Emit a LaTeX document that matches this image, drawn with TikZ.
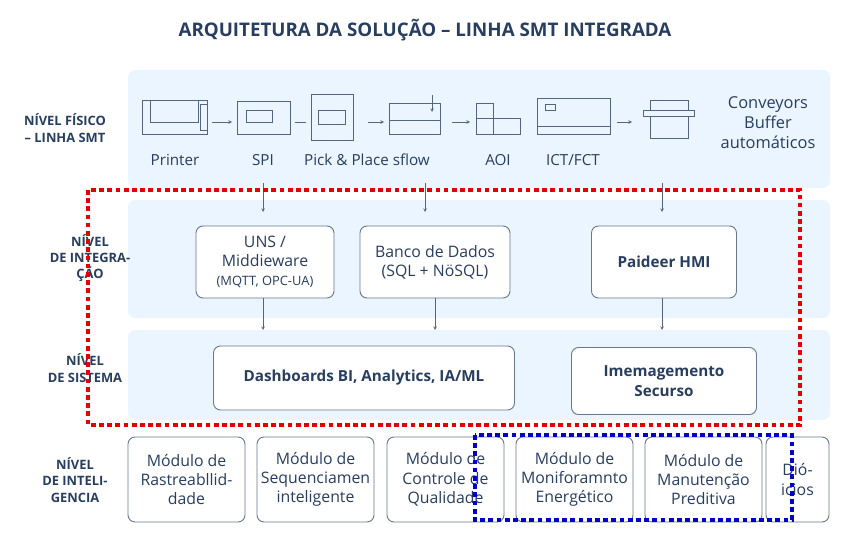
\documentclass[tikz,border=0pt]{standalone}
\usepackage{fontspec}
\setmainfont{Open Sans}
\usepackage{tikz}
\definecolor{inkc}{RGB}{40,62,96}
\newcommand{\bandcol}{blue!50!cyan!8}
\newcommand{\inkcol}{inkc}
\tikzset{
  box/.style={draw=\inkcol!70, thick, rounded corners=6pt, fill=white, align=center, text=\inkcol, font=\fontsize{13.5}{16.5}\selectfont},
  lvl/.style={align=center, text=\inkcol, font=\bfseries\fontsize{11}{14}\selectfont},
  ico/.style={draw=\inkcol!80, thick},
  lab/.style={text=\inkcol, font=\fontsize{13}{16}\selectfont},
  arr/.style={->, >=stealth, draw=\inkcol!80}
}
\begin{document}
\begin{tikzpicture}[x=0.03cm, y=-0.03cm]
    \useasboundingbox (0, 0) rectangle (846, 538);

    \node[text=\inkcol, font=\bfseries\fontsize{16}{18}\selectfont] (title) at (425, 30) {ARQUITETURA DA SOLUÇÃO – LINHA SMT INTEGRADA};

    % bandes
    \fill[\bandcol, rounded corners=6pt] (128, 70) rectangle (830, 188);
    \fill[\bandcol, rounded corners=6pt] (128, 200) rectangle (830, 318);
    \fill[\bandcol, rounded corners=6pt] (128, 330) rectangle (830, 420);

    \node[lvl] (l1) at (65, 128) {NÍVEL FÍSICO\\– LINHA SMT};
    \node[lvl] (l2) at (90, 258) {NÍVEL\\DE INTEGRA-\\ÇÃO};
    \node[lvl] (l3) at (85, 368) {NÍVEL\\DE SISTEMA};
    \node[lvl] (l4) at (75, 480) {NÍVEL\\DE INTELI-\\GENCIA};

    % machines
    \draw[ico] (142, 100) rectangle (207, 134);
    \draw[ico] (150, 100) rectangle (198, 122);
    \draw[ico] (200, 104) rectangle (207, 130);
    \draw[ico] (237, 101) rectangle (290, 134);
    \draw[ico] (246, 110) rectangle (272, 122);
    \draw[ico] (311, 94) rectangle (353, 140);
    \draw[ico] (318, 110) rectangle (345, 124);
    \draw[ico] (389, 103) rectangle (440, 134);
    \draw[ico] (389, 120) -- (440, 120);
    \draw[arr] (432, 95) -- (432, 112);
    \draw[ico] (476, 103) rectangle (493, 134);
    \draw[ico] (476, 118) rectangle (520, 134);
    \draw[ico] (537, 98) rectangle (610, 134);
    \draw[ico] (537, 126) -- (610, 126);
    \draw[ico] (545, 104) rectangle (555, 110);
    \draw[ico] (643, 110) rectangle (694, 116);
    \draw[ico] (650, 100) rectangle (688, 110);
    \draw[ico] (650, 116) rectangle (688, 138);

    \draw[arr] (212, 122) -- (232, 122);
    \draw[draw=\inkcol!80] (295, 122) -- (306, 122);
    \draw[arr] (368, 122) -- (384, 122);
    \draw[arr] (452, 122) -- (470, 122);
    \draw[arr] (617, 122) -- (632, 122);

    \node[lab] (p1) at (175, 160) {Printer};
    \node[lab] (p2) at (263, 160) {SPI};
    \node[lab] (p3) at (367, 160) {Pick \& Place sflow};
    \node[lab] (p4) at (498, 160) {AOI};
    \node[lab] (p5) at (573, 160) {ICT/FCT};
    \node[lab, align=center, font=\fontsize{14}{17}\selectfont] (p6) at (768, 123) {Conveyors\\Buffer\\automáticos};

    % integration
    \node[box, minimum width=4.14cm, minimum height=72*0.03cm] (uns) at (265, 262) {UNS /\\Middieware\\{\fontsize{11}{13}\selectfont (MQTT, OPC-UA)}};
    \node[box, minimum width=4.5cm, minimum height=72*0.03cm] (db) at (435, 262) {Banco de Dados\\(SQL + NöSQL)};
    \node[box, minimum width=4.35cm, minimum height=72*0.03cm, font=\bfseries\fontsize{13}{15}\selectfont] (hmi) at (664, 262) {Paideer HMI};

    % systeme
    \node[box, minimum width=9.03cm, minimum height=64*0.03cm, font=\bfseries\fontsize{13}{15}\selectfont] (bi) at (364, 378) {Dashboards BI, Analytics, IA/ML};
    \node[box, minimum width=5.55cm, minimum height=67*0.03cm, font=\bfseries\fontsize{13}{17}\selectfont] (sec) at (664, 381) {Imemagemento\\Securso};

    \draw[arr] (263, 183) -- (263, 212);
    \draw[arr] (425, 183) -- (425, 212);
    \draw[arr] (662, 183) -- (662, 212);
    \draw[arr] (uns.south) ++(-2, 0) -- (263, 330);
    \draw[arr] (db.south) -- (435, 330);
    \draw[arr] (hmi.south) ++(-2, 0) -- (662, 330);

    % intelligence
    \node[box, minimum width=3.51cm, minimum height=85*0.03cm] (i1) at (186.5, 479.5) {Módulo de\\Rastreabllid-\\dade};
    \node[box, minimum width=3.51cm, minimum height=85*0.03cm] (i2) at (315.5, 479.5) {Módulo de\\Sequenciamen\\inteligente};
    \node[box, minimum width=3.51cm, minimum height=85*0.03cm] (i3) at (445.5, 479.5) {Módulo de\\Controle de\\Qualidade};
    \node[box, minimum width=3.51cm, minimum height=85*0.03cm] (i4) at (574.5, 479.5) {Módulo de\\Moniforamnto\\Energético};
    \node[box, minimum width=3.51cm, minimum height=85*0.03cm] (i5) at (703.5, 479.5) {Módulo de\\Manutenção\\Preditiva};
    \node[box, minimum width=1.89cm, minimum height=85*0.03cm] (i6) at (797.5, 479.5) {Dió-\\icios};

    % cadres pointilles
    \draw[red!90!black, line width=3.5pt, dash pattern=on 4pt off 3pt] (88, 190) rectangle (800, 425);
    \draw[blue!80!black, line width=3.5pt, dash pattern=on 4pt off 3pt] (475, 435) rectangle (792, 520);

  \end{tikzpicture}
\end{document}
